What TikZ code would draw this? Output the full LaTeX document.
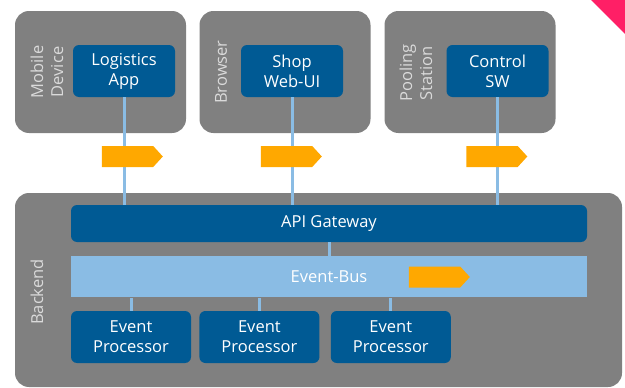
\documentclass[tikz,border=0pt]{standalone}
\usepackage{fontspec}
\setsansfont{Open Sans}
\usetikzlibrary{positioning,shapes.symbols,calc}
\definecolor{evGray}{HTML}{808080}
\definecolor{evGrayL}{HTML}{DADADA}
\definecolor{evBlue}{HTML}{005A94}
\definecolor{evBlueL}{HTML}{8ABCE4}
\definecolor{evOrange}{HTML}{FFA800}
\definecolor{evPink}{HTML}{FF1F66}
\tikzset{
  ev-tier/.style={
    fill=evGray, rounded corners=14pt, inner sep=0pt,
    minimum width=171pt, minimum height=122pt
  },
  ev-box/.style={
    fill=evBlue, rounded corners=6pt, text=white, align=center,
    font=\sffamily\fontsize{16.5}{20}\selectfont, inner sep=0pt,
    minimum width=102pt, minimum height=52pt
  },
  ev-proc/.style={ev-box, minimum width=120pt},
  ev-bar/.style={ev-box, minimum width=516pt, minimum height=37pt},
  ev-bus/.style={ev-bar, fill=evBlueL, rounded corners=0pt, minimum height=41pt},
  ev-tag/.style={font=\sffamily\fontsize{16.5}{20}\selectfont, text=evGrayL,
    rotate=90, align=center, inner sep=0pt},
  ev-link/.style={draw=evBlueL, line width=3pt},
  ev-msg/.style={signal, signal to=east, signal pointer angle=95,
    fill=evOrange, inner sep=0pt, minimum width=61pt, minimum height=21pt}
}

\begin{document}
\begin{tikzpicture}[x=1pt, y=-1pt]
\useasboundingbox[fill=white] (0,0) rectangle (625,388);
\fill[evPink] (591,0) -- (625,0) -- (625,34) -- cycle;

% --- Clients ---
\node[ev-tier] (mobile) at (100.5,72) {};
\node[ev-tier] (browser) at (285,72) {};
\node[ev-tier] (station) at (470,72) {};
\node[ev-tag] at (47,72) {Mobile\\Device};
\node[ev-tag] at (221,72) {Browser};
\node[ev-tag] at (416,73) {Pooling\\Station};
\node[ev-box] (app) at (124,71) {Logistics\\App};
\node[ev-box] (webui) at (292,71) {Shop\\Web-UI};
\node[ev-box] (ctrl) at (497.5,71) {Control\\SW};

% --- Backend ---
\node[ev-tier, minimum width=607pt, minimum height=194pt] (backend) at (318.5,290) {};
\node[ev-tag] at (37,292) {Backend};
\node[ev-bar] (gw) at (329,223.5) {API Gateway};
\node[ev-bus, below=14pt of gw] (bus) {Event-Bus};
\node[ev-proc] (proc1) at (131,337) {Event\\Processor};
\node[ev-proc, right=8pt of proc1] (proc2) {Event\\Processor};
\node[ev-proc, right=11pt of proc2] (proc3) {Event\\Processor};

% --- Links ---
\draw[ev-link] (app.south) -- (app.south |- gw.north);
\draw[ev-link] (webui.south) -- (webui.south |- gw.north);
\draw[ev-link] (ctrl.south) -- (ctrl.south |- gw.north);
\draw[ev-link] (gw.south) -- (bus.north);
\foreach \p in {proc1,proc2,proc3}
  \draw[ev-link] (\p.north) -- (\p.north |- bus.south);

% --- Nachrichten ---
\node[ev-msg] (msg1) at (127.5,156.5) {};
\node[ev-msg] (msg2) at (286.5,156.5) {};
\node[ev-msg] (msg3) at (492,156.5) {};
\node[ev-msg] (msgbus) at (434.5,277) {};
\end{tikzpicture}
\end{document}
